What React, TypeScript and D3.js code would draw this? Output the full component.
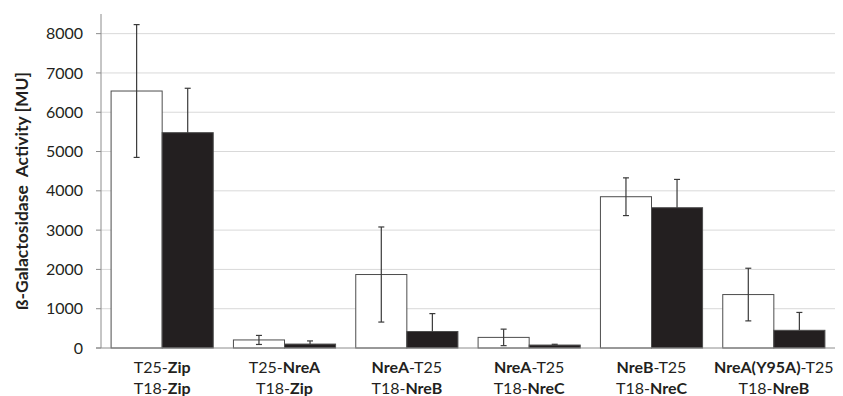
import React from "react";
import * as d3 from "d3";

// Two-hybrid interaction pairs: each group has a first and second construct line
const groupLines1: { plain: string; bold: boolean }[][] = [
  [{ plain: "T25-", bold: false }, { plain: "Zip", bold: true }],
  [{ plain: "T25-", bold: false }, { plain: "NreA", bold: true }],
  [{ plain: "NreA", bold: true }, { plain: "-T25", bold: false }],
  [{ plain: "NreA", bold: true }, { plain: "-T25", bold: false }],
  [{ plain: "NreB", bold: true }, { plain: "-T25", bold: false }],
  [{ plain: "NreA(Y95A)", bold: true }, { plain: "-T25", bold: false }],
];
const groupLines2: { plain: string; bold: boolean }[][] = [
  [{ plain: "T18-", bold: false }, { plain: "Zip", bold: true }],
  [{ plain: "T18-", bold: false }, { plain: "Zip", bold: true }],
  [{ plain: "T18-", bold: false }, { plain: "NreB", bold: true }],
  [{ plain: "T18-", bold: false }, { plain: "NreC", bold: true }],
  [{ plain: "T18-", bold: false }, { plain: "NreC", bold: true }],
  [{ plain: "T18-", bold: false }, { plain: "NreB", bold: true }],
];

// β-galactosidase activity (Miller units) with standard deviations
const whiteValues = [6540, 205, 1870, 270, 3850, 1360];
const whiteErrors = [1690, 115, 1210, 210, 480, 670];
const blackValues = [5480, 100, 420, 75, 3570, 450];
const blackErrors = [1130, 80, 455, 20, 720, 455];

const yTicks = [0, 1000, 2000, 3000, 4000, 5000, 6000, 7000, 8000];

const W = 843;
const H = 396;
const margin = { left: 101, right: 8, top: 14, bottom: 48 };
const FONT = "Lato, 'Open Sans', sans-serif";
const TEXT = "#231f20";

export default function App() {
  const ids = d3.range(whiteValues.length);
  const x = d3
    .scaleBand<number>()
    .domain(ids)
    .range([margin.left, W - margin.right])
    .paddingInner(0.165)
    .paddingOuter(0.0825);
  const y = d3.scaleLinear().domain([0, 8500]).range([H - margin.bottom, margin.top]);
  const bw = x.bandwidth() / 2;
  const y0 = y(0);
  const cap = 3;

  return (
    <svg
      width={W}
      height={H}
      style={{ position: "absolute", left: 0, top: 0, background: "#fff" }}
      fontFamily={FONT}
    >
      {/* gridlines and ticks */}
      {yTicks.map((t) => (
        <g key={t}>
          {t > 0 && (
            <line x1={margin.left} x2={W - margin.right} y1={y(t)} y2={y(t)} stroke="#d9d9d9" strokeWidth={1} />
          )}
          <line x1={margin.left - 5} x2={margin.left} y1={y(t)} y2={y(t)} stroke="#8c8c8c" />
          <text x={83} y={y(t)} dy="0.35em" textAnchor="end" fontSize={16} fill={TEXT}>
            {t}
          </text>
        </g>
      ))}

      {/* bars */}
      {ids.map((i) => {
        const gx = x(i)!;
        return (
          <g key={i}>
            <rect
              x={gx}
              y={y(whiteValues[i])}
              width={bw}
              height={y0 - y(whiteValues[i])}
              fill="#fff"
              stroke="#4d4d4d"
              strokeWidth={1}
            />
            <rect
              x={gx + bw}
              y={y(blackValues[i])}
              width={bw}
              height={y0 - y(blackValues[i])}
              fill="#231f20"
              stroke="#4d4d4d"
              strokeWidth={1}
            />
          </g>
        );
      })}

      {/* error bars */}
      {ids.map((i) => {
        const cxW = x(i)! + bw / 2;
        const cxB = x(i)! + bw * 1.5;
        const wTop = y(whiteValues[i] + whiteErrors[i]);
        const wBot = y(Math.max(0, whiteValues[i] - whiteErrors[i]));
        const bTop = y(blackValues[i] + blackErrors[i]);
        const bBar = y(blackValues[i]);
        return (
          <g key={i} stroke="#3a3a3a" strokeWidth={1.2}>
            <line x1={cxW} x2={cxW} y1={wTop} y2={wBot} />
            <line x1={cxW - cap} x2={cxW + cap} y1={wTop} y2={wTop} />
            <line x1={cxW - cap} x2={cxW + cap} y1={wBot} y2={wBot} />
            <line x1={cxB} x2={cxB} y1={bTop} y2={bBar} />
            <line x1={cxB - cap} x2={cxB + cap} y1={bTop} y2={bTop} />
          </g>
        );
      })}

      {/* axes */}
      <line x1={margin.left} x2={margin.left} y1={margin.top} y2={y0} stroke="#8c8c8c" />
      <line x1={margin.left - 5} x2={W - margin.right} y1={y0} y2={y0} stroke="#8c8c8c" />

      {/* category labels */}
      {ids.map((i) => {
        const cx = x(i)! + x.bandwidth() / 2;
        return (
          <g key={i}>
            <text x={cx} y={373} textAnchor="middle" fontSize={16} fill={TEXT}>
              {groupLines1[i].map((s, k) => (
                <tspan key={k} fontWeight={s.bold ? 700 : 400}>
                  {s.plain}
                </tspan>
              ))}
            </text>
            <text x={cx} y={394} textAnchor="middle" fontSize={16} fill={TEXT}>
              {groupLines2[i].map((s, k) => (
                <tspan key={k} fontWeight={s.bold ? 700 : 400}>
                  {s.plain}
                </tspan>
              ))}
            </text>
          </g>
        );
      })}

      {/* y-axis title */}
      <text
        transform="translate(28, 191) rotate(-90)"
        textAnchor="middle"
        fontSize={17.5}
        fontWeight={700}
        fill={TEXT}
        style={{ whiteSpace: "pre" }}
      >
        {"ß-Galactosidase  Activity [MU]"}
      </text>
    </svg>
  );
}
